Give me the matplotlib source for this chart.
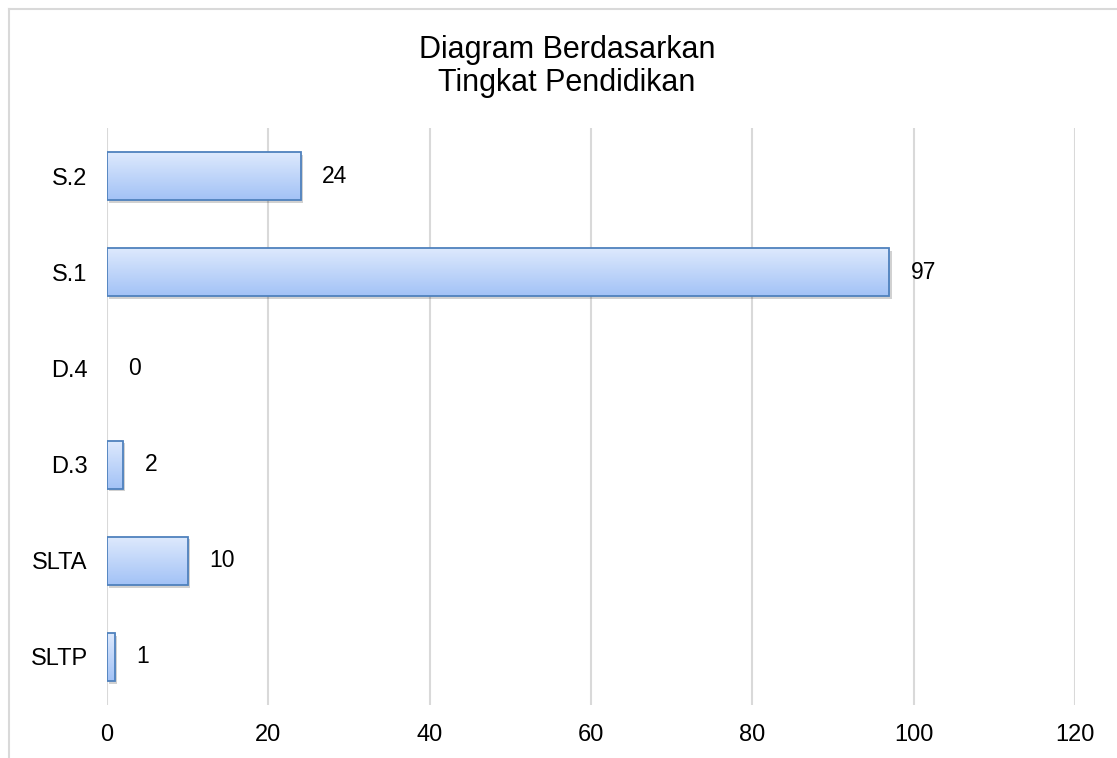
import numpy as np
import matplotlib
matplotlib.use("Agg")
import matplotlib.pyplot as plt
from matplotlib.colors import LinearSegmentedColormap
from matplotlib import patheffects as pe
from matplotlib.lines import Line2D

plt.rcParams['font.family'] = ['Liberation Sans', 'DejaVu Sans']

categories = ['SLTP', 'SLTA', 'D.3', 'D.4', 'S.1', 'S.2']
values = [1, 10, 2, 0, 97, 24]
xticks = [0, 20, 40, 60, 80, 100, 120]
title = 'Diagram Berdasarkan\nTingkat Pendidikan'

fig = plt.figure(figsize=(11.17, 7.58), dpi=100)
ax = fig.add_axes([107/1117, 1 - 705/758, (1075 - 107)/1117, (705 - 128)/758])

# outer chart frame (left and top visible)
fig.add_artist(Line2D([8.5/1117, 8.5/1117], [0, 1 - 8.5/758], transform=fig.transFigure,
                      color='#d9d9d9', lw=1.5))
fig.add_artist(Line2D([8.5/1117, 1], [1 - 8.5/758, 1 - 8.5/758], transform=fig.transFigure,
                      color='#d9d9d9', lw=1.5))

y = np.arange(len(categories))
h = 0.5
edge = '#4f81bd'
cmap = LinearSegmentedColormap.from_list('g', ['#dfeafd', '#a2c2f6'])
grad = np.linspace(0, 1, 256).reshape(-1, 1)
fs = 17

# white base bars with soft shadow
base = ax.barh(y, values, height=h, color='white', edgecolor='none', zorder=2)
for b in base:
    b.set_path_effects([pe.SimplePatchShadow(offset=(1.5, -2), shadow_rgbFace='black', alpha=0.18),
                        pe.Normal()])
# outline bars
bars = ax.barh(y, values, height=h, color='none', edgecolor=edge, linewidth=1.3, zorder=4)
for i, (b, v, yi) in enumerate(zip(bars, values, y)):
    if v > 0:
        im = ax.imshow(grad, cmap=cmap, extent=(0, v, yi - h/2, yi + h/2),
                       aspect='auto', zorder=3, interpolation='bilinear')
        im.set_clip_path(b)
    else:
        b.set_linewidth(0)
        base[i].set_visible(False)
    ax.annotate(str(v), xy=(v, yi), xytext=(15.5, 0), textcoords='offset points',
                ha='left', va='center', fontsize=16.5, color='black')

ax.set_xlim(0, 120)
ax.set_ylim(-0.5, len(categories) - 0.5)
ax.set_xticks(xticks)
ax.set_xticklabels([str(t) for t in xticks])
ax.set_yticks(y)
ax.set_yticklabels(categories)
ax.tick_params(axis='both', length=0, labelsize=fs, colors='black')
ax.tick_params(axis='x', pad=14)
ax.tick_params(axis='y', pad=14)
ax.grid(axis='x', color='#d9d9d9', linewidth=1.5, zorder=0)
ax.set_axisbelow(True)
for s in ax.spines.values():
    s.set_visible(False)
ax.set_facecolor('none')

fig.text(567/1117, 1 - 66.5/758, title, ha='center', va='center', fontsize=22,
         linespacing=1.12, color='black')

fig.savefig('out.png', dpi=100)
